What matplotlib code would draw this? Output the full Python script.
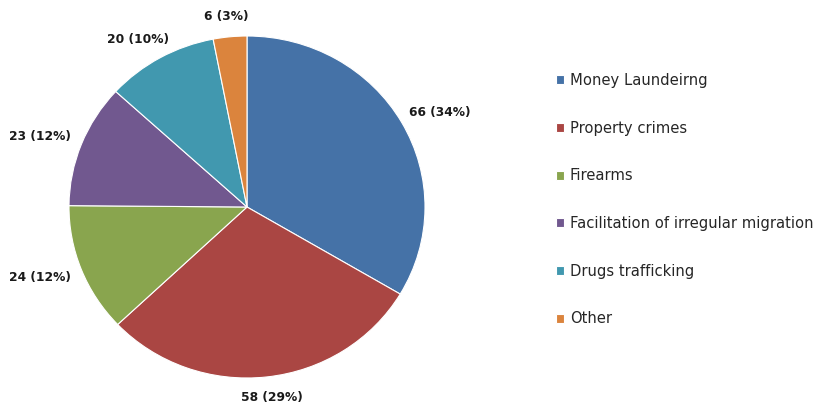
import numpy as np
import matplotlib
matplotlib.use('Agg')
from matplotlib import pyplot as plt

# data
categories = ['Money Laundeirng', 'Property crimes', 'Firearms',
              'Facilitation of irregular migration', 'Drugs trafficking', 'Other']
counts = [66, 58, 24, 23, 20, 6]
percents = [34, 29, 12, 12, 10, 3]
colors = ['#4572A7', '#AA4643', '#89A54E', '#71588F', '#4198AF', '#DB843D']

W, H = 818, 405
fig = plt.figure(figsize=(W / 100, H / 100), dpi=100)

# pie box in pixels (slightly squashed like the original)
cx, cy, rx, ry = 247, 207, 178, 171
ax = fig.add_axes([(cx - rx) / W, (H - cy - ry) / H, 2 * rx / W, 2 * ry / H])

wedges, _ = ax.pie(counts, colors=colors, startangle=90, counterclock=False,
                   wedgeprops=dict(edgecolor='white', linewidth=0.8))
ax.set_aspect('auto')
ax.set_xlim(-1, 1)
ax.set_ylim(-1, 1)

# outside-end labels
for w, c, p in zip(wedges, counts, percents):
    ang = np.deg2rad((w.theta1 + w.theta2) / 2)
    ux, uy = np.cos(ang), np.sin(ang)
    r = 1.08
    # shift text centre out by half of its box along the direction
    hw, hh = 30 / rx, 7 / ry
    ax.text(ux * r + ux * hw, uy * r + uy * hh, f'{c} ({p}%)',
            ha='center', va='center', fontsize=8.8, fontweight='bold',
            color='#1a1a1a')

fig.legend(wedges, categories, loc='upper left',
           bbox_to_anchor=(556 / W, 1 - 73 / H), frameon=False,
           fontsize=10.6, labelspacing=2.22, handlelength=0.55, handleheight=0.55,
           handletextpad=0.4, borderpad=0, borderaxespad=0,
           labelcolor='#262626')

fig.savefig('out.png', dpi=100)
